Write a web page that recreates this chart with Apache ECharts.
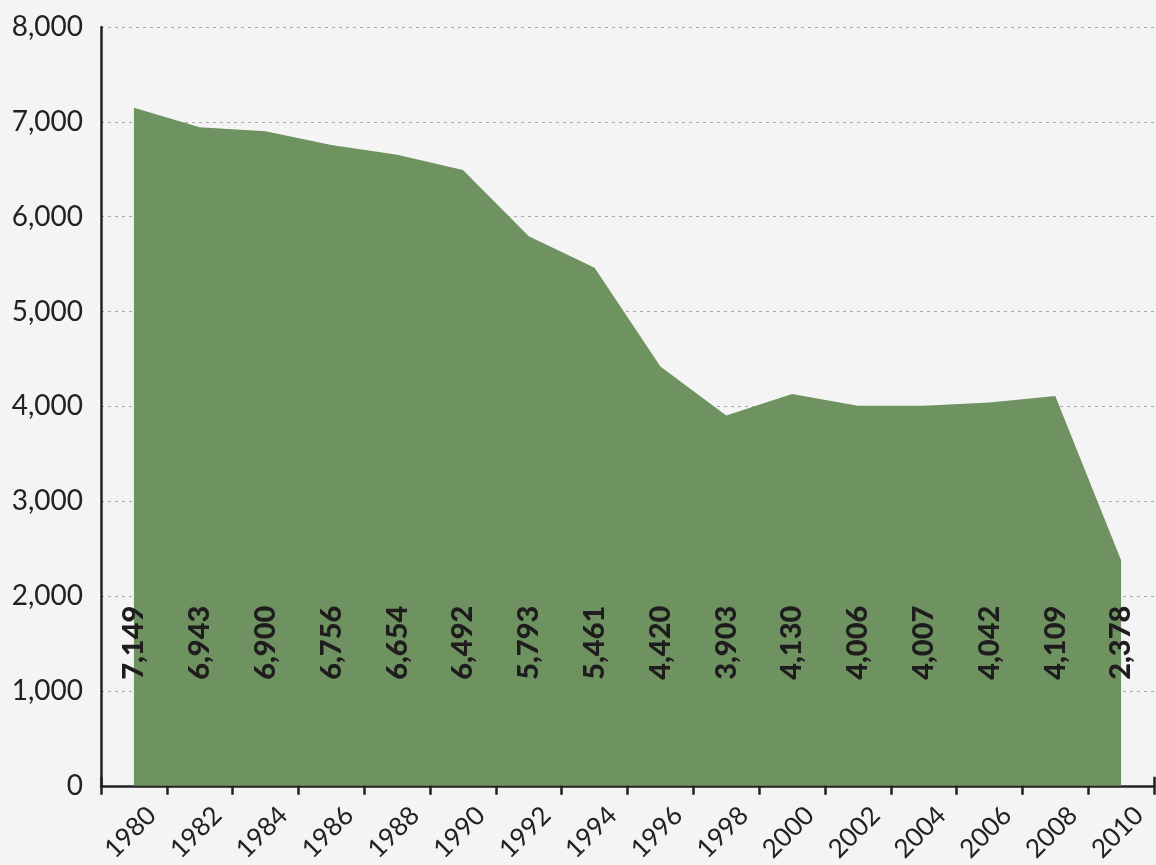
<!DOCTYPE html>
<html>
<head>
<meta charset="utf-8">
<script src="https://cdn.jsdelivr.net/npm/echarts@6/dist/echarts.min.js"></script>
<style>
html,body{margin:0;padding:0;background:#f4f4f4;}
#c{width:1156px;height:865px;}
</style>
</head>
<body>
<div id="c"></div>
<script>
var years = ['1980','1982','1984','1986','1988','1990','1992','1994','1996','1998','2000','2002','2004','2006','2008','2010'];
var values = [7149, 6943, 6900, 6756, 6654, 6492, 5793, 5461, 4420, 3903, 4130, 4006, 4007, 4042, 4109, 2378];
var yTicks = [0, 1000, 2000, 3000, 4000, 5000, 6000, 7000, 8000];

var FONT = 'Lato, "Open Sans", sans-serif';
var chart = echarts.init(document.getElementById('c'), null, {renderer: 'canvas'});
chart.setOption({
  backgroundColor: '#f4f4f4',
  animation: false,
  grid: {left: 101, right: 2, top: 27, bottom: 73, containLabel: false},
  xAxis: [{
    type: 'category',
    data: years,
    boundaryGap: true,
    axisLine: {show: true, lineStyle: {color: '#222', width: 2.5}},
    axisTick: {show: true, inside: false, length: 9, lineStyle: {color: '#222', width: 2.5}},
    axisLabel: {
      show: true, rotate: 45, interval: 0, margin: 43,
      align: 'center', verticalAlign: 'middle',
      padding: [0, 10, 10, 0],
      fontFamily: FONT, fontSize: 26, color: '#222'
    },
    splitLine: {show: false}
  }, {
    type: 'category',
    data: years,
    position: 'bottom',
    boundaryGap: true,
    axisLine: {show: false},
    axisTick: {show: true, inside: true, length: 9, lineStyle: {color: '#222', width: 2.5}},
    axisLabel: {show: false},
    splitLine: {show: false}
  }],
  yAxis: {
    type: 'value',
    min: 0, max: 8000, interval: 1000,
    axisLine: {show: true, lineStyle: {color: '#222', width: 2.5}},
    axisTick: {show: false},
    axisLabel: {
      margin: 18, fontFamily: FONT, fontSize: 28, color: '#222',
      formatter: function (v) { return yTicks.indexOf(v) >= 0 ? v.toLocaleString('en-US') : ''; }
    },
    splitLine: {show: true, lineStyle: {color: '#a8a8a8', type: [3, 4], width: 1}}
  },
  series: [{
    type: 'line',
    data: values,
    symbol: 'none',
    lineStyle: {width: 0},
    areaStyle: {color: '#6e9260', opacity: 1},
    z: 2
  }, {
    type: 'bar',
    data: values,
    barWidth: 1,
    silent: true,
    itemStyle: {color: 'rgba(0,0,0,0)'},
    label: {
      show: true,
      position: 'insideBottom',
      distance: 106,
      rotate: 90,
      align: 'left',
      verticalAlign: 'middle',
      fontFamily: FONT, fontWeight: 900, fontSize: 29, color: '#1e1c1c',
      formatter: function (p) { return p.value.toLocaleString('en-US'); }
    },
    z: 5
  }]
});
</script>
</body>
</html>
